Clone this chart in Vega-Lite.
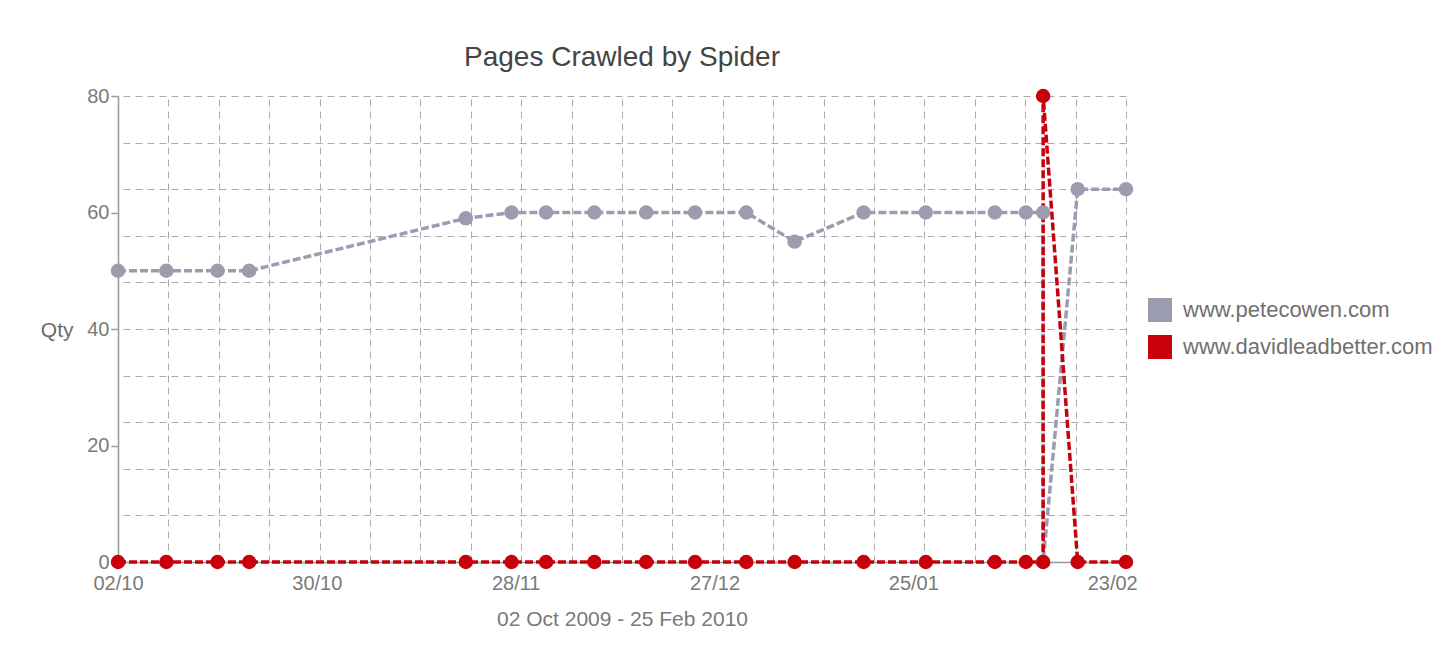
{
  "$schema": "https://vega.github.io/schema/vega-lite/v6.json",
  "width": 1008,
  "height": 466,
  "autosize": {"type": "none"},
  "padding": {"left": 118, "top": 96, "right": 329, "bottom": 107},
  "background": "white",
  "config": {
    "view": {"stroke": null},
    "font": "Liberation Sans",
    "axis": {"labelFont": "Liberation Sans", "titleFont": "Liberation Sans"}
  },
  "title": {
    "text": "Pages Crawled by Spider",
    "fontSize": 28,
    "fontWeight": "normal",
    "color": "#444444",
    "anchor": "middle",
    "offset": 14,
    "font": "Liberation Sans"
  },
  "data": {
    "values": [
      {"date": "2009-10-02", "site": "www.petecowen.com", "qty": 50, "seq": 1},
      {"date": "2009-10-09", "site": "www.petecowen.com", "qty": 50, "seq": 2},
      {"date": "2009-10-16T10:00:00Z", "site": "www.petecowen.com", "qty": 50, "seq": 3},
      {"date": "2009-10-21", "site": "www.petecowen.com", "qty": 50, "seq": 4},
      {"date": "2009-11-21T09:00:00Z", "site": "www.petecowen.com", "qty": 59, "seq": 5},
      {"date": "2009-11-28", "site": "www.petecowen.com", "qty": 60, "seq": 6},
      {"date": "2009-12-03", "site": "www.petecowen.com", "qty": 60, "seq": 7},
      {"date": "2009-12-10", "site": "www.petecowen.com", "qty": 60, "seq": 8},
      {"date": "2009-12-17T12:00:00Z", "site": "www.petecowen.com", "qty": 60, "seq": 9},
      {"date": "2009-12-24T14:00:00Z", "site": "www.petecowen.com", "qty": 60, "seq": 10},
      {"date": "2010-01-01", "site": "www.petecowen.com", "qty": 60, "seq": 11},
      {"date": "2010-01-08", "site": "www.petecowen.com", "qty": 55, "seq": 12},
      {"date": "2010-01-18", "site": "www.petecowen.com", "qty": 60, "seq": 13},
      {"date": "2010-01-27", "site": "www.petecowen.com", "qty": 60, "seq": 14},
      {"date": "2010-02-06", "site": "www.petecowen.com", "qty": 60, "seq": 15},
      {"date": "2010-02-10T12:00:00Z", "site": "www.petecowen.com", "qty": 60, "seq": 16},
      {"date": "2010-02-13", "site": "www.petecowen.com", "qty": 60, "seq": 17},
      {"date": "2010-02-13", "site": "www.petecowen.com", "qty": 0, "seq": 18},
      {"date": "2010-02-18", "site": "www.petecowen.com", "qty": 64, "seq": 19},
      {"date": "2010-02-25", "site": "www.petecowen.com", "qty": 64, "seq": 20},
      {"date": "2009-10-02", "site": "www.davidleadbetter.com", "qty": 0, "seq": 1},
      {"date": "2009-10-09", "site": "www.davidleadbetter.com", "qty": 0, "seq": 2},
      {"date": "2009-10-16T10:00:00Z", "site": "www.davidleadbetter.com", "qty": 0, "seq": 3},
      {"date": "2009-10-21", "site": "www.davidleadbetter.com", "qty": 0, "seq": 4},
      {"date": "2009-11-21T09:00:00Z", "site": "www.davidleadbetter.com", "qty": 0, "seq": 5},
      {"date": "2009-11-28", "site": "www.davidleadbetter.com", "qty": 0, "seq": 6},
      {"date": "2009-12-03", "site": "www.davidleadbetter.com", "qty": 0, "seq": 7},
      {"date": "2009-12-10", "site": "www.davidleadbetter.com", "qty": 0, "seq": 8},
      {"date": "2009-12-17T12:00:00Z", "site": "www.davidleadbetter.com", "qty": 0, "seq": 9},
      {"date": "2009-12-24T14:00:00Z", "site": "www.davidleadbetter.com", "qty": 0, "seq": 10},
      {"date": "2010-01-01", "site": "www.davidleadbetter.com", "qty": 0, "seq": 11},
      {"date": "2010-01-08", "site": "www.davidleadbetter.com", "qty": 0, "seq": 12},
      {"date": "2010-01-18", "site": "www.davidleadbetter.com", "qty": 0, "seq": 13},
      {"date": "2010-01-27", "site": "www.davidleadbetter.com", "qty": 0, "seq": 14},
      {"date": "2010-02-06", "site": "www.davidleadbetter.com", "qty": 0, "seq": 15},
      {"date": "2010-02-10T12:00:00Z", "site": "www.davidleadbetter.com", "qty": 0, "seq": 16},
      {"date": "2010-02-13", "site": "www.davidleadbetter.com", "qty": 0, "seq": 17},
      {"date": "2010-02-13", "site": "www.davidleadbetter.com", "qty": 80, "seq": 18},
      {"date": "2010-02-18", "site": "www.davidleadbetter.com", "qty": 0, "seq": 19},
      {"date": "2010-02-25", "site": "www.davidleadbetter.com", "qty": 0, "seq": 20}
    ]
  },
  "layer": [
    {
      "mark": {"type": "line", "strokeDash": [8, 3], "strokeWidth": 3.5, "strokeCap": "butt"},
      "encoding": {
        "x": {
          "field": "date", "type": "temporal",
          "scale": {"type": "utc", "domain": [1254441600000, 1267056000000], "nice": false},
          "axis": {
            "values": [1254441600000, 1256929920000, 1259418240000, 1261906560000, 1264394880000, 1266883200000],
            "labelExpr": "utcFormat(datum.value, '%d/%m')",
            "grid": false, "ticks": false, "tickSize": 0,
            "domain": true, "domainColor": "#999999", "domainWidth": 1.5,
            "labelFontSize": 20, "labelColor": "#7a7a7a", "labelPadding": 11,
            "labelFlush": false, "labelOverlap": false,
            "title": "02 Oct 2009 - 25 Feb 2010",
            "titleFontSize": 21, "titleFontWeight": "normal", "titleColor": "#7a7a7a", "titlePadding": 15
          }
        },
        "y": {
          "field": "qty", "type": "quantitative",
          "scale": {"domain": [0, 80], "nice": false},
          "axis": {
            "values": [0, 20, 40, 60, 80],
            "grid": false, "ticks": true, "tickSize": 7, "tickColor": "#999999", "tickWidth": 1.5,
            "domain": true, "domainColor": "#999999", "domainWidth": 1.5,
            "labelFontSize": 20, "labelColor": "#7a7a7a", "labelPadding": 2,
            "labelFlush": false,
            "title": "Qty", "titleAngle": 0, "titleFontSize": 21, "titleFontWeight": "normal",
            "titleColor": "#6a6a6a", "titleAlign": "right", "titleBaseline": "middle",
            "titleX": -45, "titleY": 234
          }
        },
        "color": {
          "field": "site", "type": "nominal",
          "scale": {"domain": ["www.petecowen.com", "www.davidleadbetter.com"], "range": ["#9c9cb0", "#c8000c"]},
          "legend": null
        },
        "order": {"field": "seq", "type": "quantitative"}
      }
    },
    {
      "mark": {"type": "circle", "size": 210, "opacity": 1},
      "encoding": {
        "x": {
          "field": "date", "type": "temporal",
          "axis": {
            "values": [1254441600000, 1255072320000, 1255703040000, 1256333760000, 1256964480000, 1257595200000, 1258225920000, 1258856640000, 1259487360000, 1260118080000, 1260748800000, 1261379520000, 1262010240000, 1262640960000, 1263271680000, 1263902400000, 1264533120000, 1265163840000, 1265794560000, 1266425280000, 1267056000000],
            "grid": true, "gridColor": "#aaaaaa", "gridDash": [7, 5], "gridWidth": 1,
            "labels": false, "ticks": false, "domain": false, "title": null
          }
        },
        "y": {
          "field": "qty", "type": "quantitative",
          "axis": {
            "values": [0, 8, 16, 24, 32, 40, 48, 56, 64, 72, 80],
            "grid": true, "gridColor": "#aaaaaa", "gridDash": [7, 5], "gridWidth": 1,
            "labels": false, "ticks": false, "domain": false, "title": null
          }
        },
        "color": {
          "field": "site", "type": "nominal",
          "legend": {
            "orient": "none", "legendX": 1030, "legendY": 202,
            "title": null, "symbolType": "square", "symbolSize": 576,
            "symbolStrokeWidth": 0, "symbolOpacity": 1,
            "labelFontSize": 22, "labelColor": "#707070", "labelOffset": 11,
            "labelLimit": 400,
            "rowPadding": 13, "labelFont": "Liberation Sans"
          }
        }
      }
    }
  ],
  "resolve": {"axis": {"x": "independent", "y": "independent"}, "legend": {"color": "independent"}}
}
